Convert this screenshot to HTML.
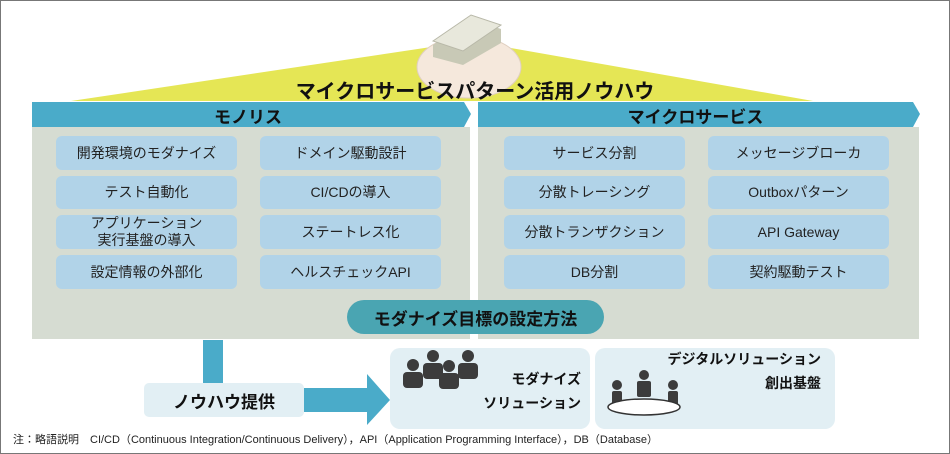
<!DOCTYPE html>
<html><head><meta charset="utf-8"><style>
body{margin:0;width:950px;height:454px;overflow:hidden;background:#fff;font-family:"Liberation Sans","Noto Sans CJK JP",sans-serif;}
#c{position:relative;width:948px;height:452px;border:1px solid #777;}
.a{position:absolute;}
.box{position:absolute;background:#b1d3e8;border-radius:6px;display:flex;align-items:center;justify-content:center;text-align:center;font-size:14px;color:#222;line-height:17px;}
.panel{position:absolute;background:#d6dcd2;}
</style></head><body><div id="c">
<svg class="a" style="left:0;top:0" width="948" height="452">
<polygon points="70,100 470,40 812,100" fill="#e5e655"/>
<ellipse cx="468" cy="66" rx="52" ry="31" fill="#f5e8dc" stroke="#e0cfc0"/>
<polygon points="432,44 470,18 500,28 500,42 462,64 432,56" fill="#c8c9b6"/>
<polygon points="432,40 470,14 500,24 462,50" fill="#e8e8dc" stroke="#b8b8a8"/>
<polygon points="31,101 463,101 470,113 463,126 31,126" fill="#4aabc9"/>
<polygon points="477,101 912,101 919,113 912,126 477,126" fill="#4aabc9"/>
<rect x="202" y="339" width="20" height="45" fill="#4aabc9"/>
<polygon points="302,387 366,387 366,373 389,399 366,424 366,411 302,411" fill="#4aabc9"/>
</svg>
<div class="a" style="left:0;width:948px;top:74px;text-align:center;font-size:20px;font-weight:bold;color:#111">マイクロサービスパターン活用ノウハウ</div>
<div class="a" style="left:31px;width:432px;top:102px;text-align:center;font-size:17px;font-weight:bold;color:#111">モノリス</div>
<div class="a" style="left:477px;width:435px;top:102px;text-align:center;font-size:17px;font-weight:bold;color:#111">マイクロサービス</div>
<div class="panel" style="left:31px;top:126px;width:438px;height:212px"></div>
<div class="panel" style="left:477px;top:126px;width:441px;height:212px"></div>
<div class="box" style="left:55px;top:135px;width:181px;height:34px">開発環境のモダナイズ</div>
<div class="box" style="left:259px;top:135px;width:181px;height:34px">ドメイン駆動設計</div>
<div class="box" style="left:55px;top:175px;width:181px;height:33px">テスト自動化</div>
<div class="box" style="left:259px;top:175px;width:181px;height:33px">CI/CDの導入</div>
<div class="box" style="left:55px;top:214px;width:181px;height:34px">アプリケーション<br>実行基盤の導入</div>
<div class="box" style="left:259px;top:214px;width:181px;height:34px">ステートレス化</div>
<div class="box" style="left:55px;top:254px;width:181px;height:34px">設定情報の外部化</div>
<div class="box" style="left:259px;top:254px;width:181px;height:34px">ヘルスチェックAPI</div>
<div class="box" style="left:503px;top:135px;width:181px;height:34px">サービス分割</div>
<div class="box" style="left:707px;top:135px;width:181px;height:34px">メッセージブローカ</div>
<div class="box" style="left:503px;top:175px;width:181px;height:33px">分散トレーシング</div>
<div class="box" style="left:707px;top:175px;width:181px;height:33px">Outboxパターン</div>
<div class="box" style="left:503px;top:214px;width:181px;height:34px">分散トランザクション</div>
<div class="box" style="left:707px;top:214px;width:181px;height:34px">API Gateway</div>
<div class="box" style="left:503px;top:254px;width:181px;height:34px">DB分割</div>
<div class="box" style="left:707px;top:254px;width:181px;height:34px">契約駆動テスト</div>
<div class="a" style="left:346px;top:299px;width:257px;height:34px;border-radius:17px;background:#4aa5b2;display:flex;align-items:center;justify-content:center;font-size:17px;font-weight:bold;color:#111">モダナイズ目標の設定方法</div>
<div class="a" style="left:143px;top:382px;width:160px;height:34px;border-radius:5px;background:#e2eff4;display:flex;align-items:center;justify-content:center;font-size:17px;font-weight:bold;color:#111">ノウハウ提供</div>
<div class="a" style="left:389px;top:347px;width:200px;height:81px;border-radius:10px;background:#e2eff4"></div>
<div class="a" style="left:594px;top:347px;width:240px;height:81px;border-radius:10px;background:#e2eff4"></div>
<svg class="a" style="left:0;top:0" width="948" height="452">
<g fill="#3c3c3c">
<circle cx="412" cy="364" r="6"/><rect x="402" y="371" width="20" height="16" rx="4"/>
<circle cx="432" cy="355" r="6"/><rect x="422" y="362" width="20" height="16" rx="4"/>
<circle cx="448" cy="365" r="6"/><rect x="438" y="372" width="20" height="16" rx="4"/>
<circle cx="467" cy="355" r="6"/><rect x="457" y="362" width="20" height="16" rx="4"/>
<circle cx="616" cy="384" r="5"/><rect x="611" y="390" width="10" height="14" rx="2"/>
<circle cx="643" cy="374" r="5"/><rect x="636" y="380" width="14" height="16" rx="2"/>
<circle cx="672" cy="384" r="5"/><rect x="667" y="390" width="10" height="14" rx="2"/>
</g>
<ellipse cx="643" cy="406" rx="36" ry="8" fill="#fff" stroke="#333" stroke-width="1.5"/>
</svg>
<div class="a" style="left:470px;top:366px;width:110px;text-align:right;font-size:14px;font-weight:bold;line-height:24px;color:#111">モダナイズ<br>ソリューション</div>
<div class="a" style="left:650px;top:346px;width:170px;text-align:right;font-size:14px;font-weight:bold;line-height:24px;color:#111">デジタルソリューション<br>創出基盤</div>
<div class="a" style="left:12px;top:430px;font-size:11px;color:#222;white-space:nowrap">注：略語説明　CI/CD（Continuous Integration/Continuous Delivery），API（Application Programming Interface），DB（Database）</div>
</div></body></html>
